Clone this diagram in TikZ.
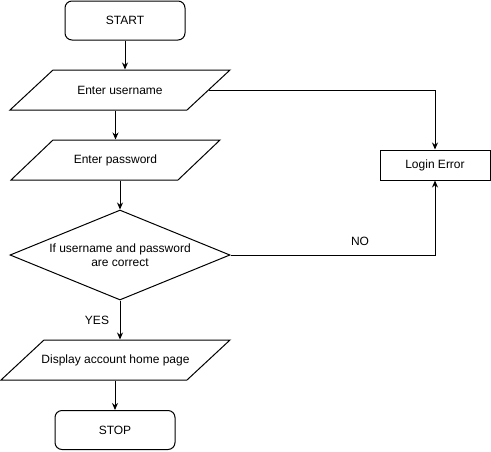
\documentclass[tikz,border=0pt]{standalone}
\usepackage{fontspec}
\setmainfont{Liberation Sans}
\usetikzlibrary{arrows.meta,shapes.geometric}
\begin{document}
\begin{tikzpicture}[x=1pt,y=-1pt,line width=1pt,
  font=\fontsize{12}{14}\selectfont,
  term/.style={draw,rounded corners=7pt,minimum width=120pt,minimum height=39pt,inner sep=0pt},
  proc/.style={draw,minimum width=110pt,minimum height=30pt,inner sep=0pt},
  iotext/.style={minimum width=140pt,minimum height=40pt,inner sep=0pt},
  iobox/.style={draw,line join=miter},
  decision/.style={draw,diamond,aspect=2.44,minimum width=220pt,minimum height=90pt,inner sep=0pt,align=center},
  arr/.style={-{Stealth[length=7pt,width=6pt]}},
  lbl/.style={inner sep=1pt}]
\useasboundingbox (0,0) rectangle (491,451);
% terminals
\node[term] (start) at (125,20.5) {START};
\node[term] (stop) at (115,430) {STOP};
% input/output shapes
\draw[iobox] (53,70) -- (230,70) -- (187,110) -- (10,110) -- cycle;
\node[iotext] (user) at (120,90) {Enter username};
\draw[iobox] (53,140) -- (220,140) -- (178,180) -- (11,180) -- cycle;
\node[iotext] (pass) at (115.5,160) {Enter password};
\draw[iobox] (44,340) -- (230,340) -- (187,380) -- (1,380) -- cycle;
\node[iotext] (disp) at (115.5,360) {Display account home page};
\coordinate (userR) at (208.5,90);
% decision
\node[decision] (dec) at (120,255) {If username and password\\are correct};
% error
\node[proc] (err) at (435,165) {Login Error};
% connectors
\draw[arr] (start.south) -- (start.south |- user.north);
\draw[arr] (pass.north |- user.south) -- (pass.north);
\draw[arr] (dec.north |- pass.south) -- (dec.north);
\draw[arr] (dec.south) -- (dec.south |- disp.north);
\draw[arr] (stop.north |- disp.south) -- (stop.north);
\draw[arr] (userR) -| (err.north);
\draw[arr] (dec.east) -| (err.south);
% labels
\node[lbl] (no) at (360,241) {NO};
\node[lbl] (yes) at (97,320) {YES};
\end{tikzpicture}
\end{document}
